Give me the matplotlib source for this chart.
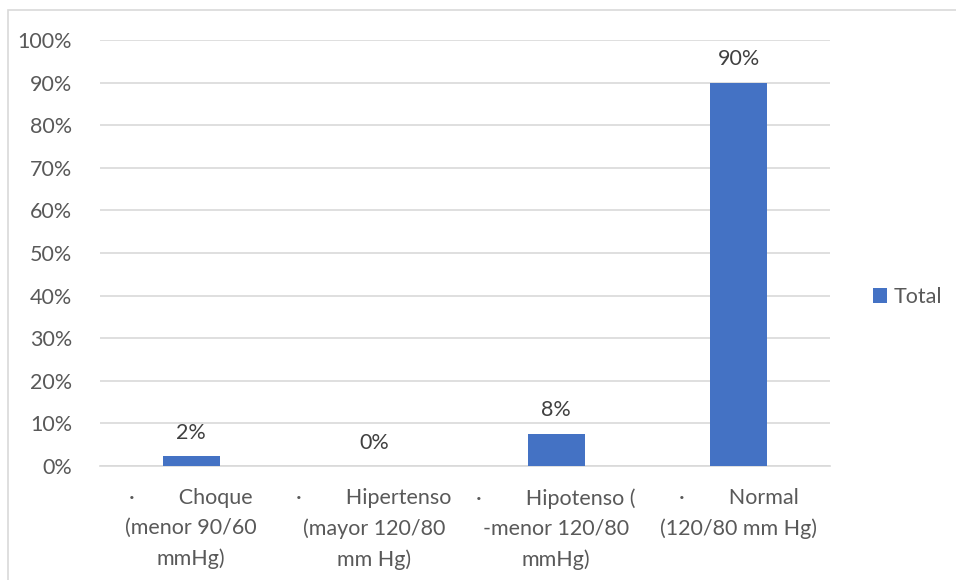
import matplotlib
matplotlib.use("Agg")
import matplotlib.pyplot as plt
from matplotlib.patches import Rectangle
from matplotlib.ticker import PercentFormatter, MultipleLocator

categories = [
    "·        Choque\n(menor 90/60\nmmHg)",
    "·        Hipertenso\n(mayor 120/80\nmm Hg)",
    "·        Hipotenso (\n-menor 120/80\nmmHg)",
    "·        Normal\n(120/80 mm Hg)",
]
values = [0.024, 0.0, 0.076, 0.90]
labels = ["2%", "0%", "8%", "90%"]
series_name = "Total"

plt.rcParams['font.family'] = ['Lato', 'DejaVu Sans']
text_color = "#595959"
grid_color = "#D9D9D9"
bar_color = "#4472C4"
fs = 15.5

fig = plt.figure(figsize=(9.56, 5.8), dpi=100)
fig.patches.append(Rectangle((8/956, -0.1), 1.2, 1.1 - 10/580, transform=fig.transFigure,
                             fill=False, edgecolor=grid_color, linewidth=1.2))
ax = fig.add_axes([100/956, 1 - 466/580, 730/956, 426/580])

x = range(len(categories))
bars = ax.bar(x, values, width=0.31, color=bar_color, label=series_name, zorder=3)
for xi, v, lab in zip(x, values, labels):
    ax.text(xi, v + 0.031, lab, ha="center", va="bottom", fontsize=fs, color="#404040")

ax.set_xlim(-0.5, len(categories) - 0.5)
ax.set_ylim(0, 1.0)
ax.yaxis.set_major_locator(MultipleLocator(0.1))
ax.yaxis.set_major_formatter(PercentFormatter(1.0, decimals=0))
ax.grid(axis="y", color=grid_color, linewidth=1.2, zorder=0)
for s in ["top", "right", "left"]:
    ax.spines[s].set_visible(False)
ax.spines["bottom"].set_color(grid_color)
ax.spines["bottom"].set_linewidth(1.2)
ax.set_xticks(list(x))
ax.set_xticklabels(categories, fontsize=fs, color=text_color, linespacing=1.63)
ax.tick_params(axis="x", length=0, pad=16)
ax.tick_params(axis="y", length=0, pad=20, labelsize=fs, labelcolor=text_color)

leg = fig.legend(handles=[bars], labels=[series_name], loc="center left",
                 bbox_to_anchor=(873/956, 1 - 297/580), frameon=False,
                 fontsize=fs, handlelength=0.65, handleheight=0.65,
                 handletextpad=0.3, borderpad=0, borderaxespad=0)
for t in leg.get_texts():
    t.set_color(text_color)

fig.savefig("out.png", dpi=100)
